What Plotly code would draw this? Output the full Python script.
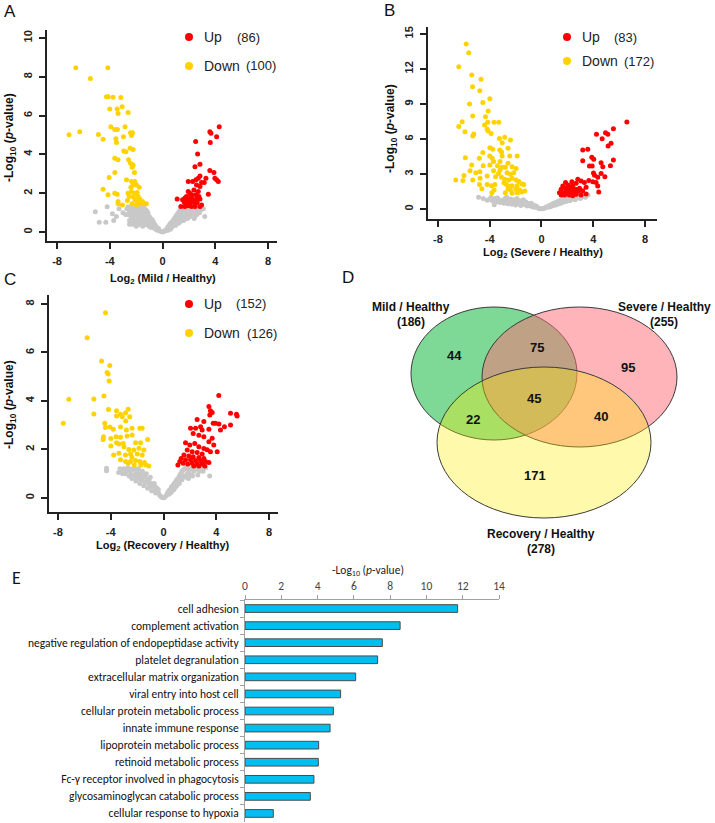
import plotly.graph_objects as go

W, H = 715, 823

# ---------------- Panel A: Mild / Healthy ----------------
a_gray = [(-5.1,1.05),(-4.8,0.5),(-4.3,0.5),(-4.2,1.3),(-3.8,0.95),(-3.7,0.6),(-3.5,0.8),(-3.3,1.2),(-3.0,1.0),(-2.8,0.9),
          (-2.7,1.2),(-2.6,0.9),(-2.5,1.1),(-2.5,0.6),(-2.4,1.3),(-2.4,0.8),(-2.3,1.0),(-2.3,0.4),(-2.2,1.2),(-2.2,0.7),
          (-2.1,0.9),(-2.1,0.5),(-2.0,1.25),(-2.0,1.0),(-2.0,0.3),(-1.9,0.8),(-1.9,0.6),(-1.8,1.2),(-1.8,1.0),(-1.8,0.4),
          (-1.7,0.9),(-1.7,0.7),(-1.6,1.1),(-1.6,0.5),(-1.5,1.25),(-1.5,0.8),(-1.5,0.3),(-1.4,1.0),(-1.4,0.6),(-1.3,0.9),
          (-1.3,0.4),(-1.2,1.1),(-1.2,0.7),(-1.1,0.5),(-1.1,0.8),(-1.0,0.6),(-1.0,0.3),(-0.9,0.7),(-0.9,0.45),(-0.8,0.5),
          (-0.8,0.25),(-0.7,0.55),(-0.7,0.3),(-0.6,0.4),(-0.6,0.2),(-0.5,0.3),(-0.5,0.15),(-0.4,0.2),(-0.4,0.1),(-0.3,0.12),
          (-0.2,0.06),(-0.1,0.03),(0.0,0.01),(0.1,0.03),(0.2,0.08),(0.3,0.15),(0.4,0.1),(0.4,0.25),(0.5,0.2),(0.5,0.35),
          (0.6,0.3),(0.6,0.45),(0.7,0.25),(0.7,0.5),(0.8,0.4),(0.8,0.6),(0.9,0.35),(0.9,0.7),(1.0,0.5),(1.0,0.8),
          (1.1,0.6),(1.1,0.9),(1.2,0.45),(1.2,1.0),(1.3,0.7),(1.3,1.1),(1.4,0.9),(1.4,1.25),(1.5,0.6),(1.5,1.05),
          (1.6,0.8),(1.6,1.2),(1.7,1.0),(1.8,0.7),(1.8,1.25),(1.9,0.9),(2.0,1.1),(2.1,0.8),(2.2,1.2),(2.3,1.0),
          (2.4,0.7),(2.5,1.15),(2.6,0.9),(2.7,1.25),(2.8,1.0),(3.0,1.2),(3.1,1.2),(3.2,0.8),
          (-2.6,1.3),(-2.5,0.4),(-2.4,1.05),(-2.3,0.6),(-2.2,0.95),(-2.2,0.45),(-2.1,1.15),(-2.1,0.7),(-2.0,0.8),
          (-2.0,0.55),(-1.9,1.05),(-1.9,0.35),(-1.8,0.85),(-1.8,0.6),(-1.7,1.25),(-1.7,0.45),(-1.6,0.95),(-1.6,0.7),
          (-1.5,1.05),(-1.5,0.55),(-1.4,1.25),(-1.4,0.8),(-1.4,0.4),(-1.3,1.15),(-1.3,0.7),(-1.2,0.9),(-1.2,0.5),
          (-1.1,1.0),(-1.1,0.35),(-1.0,0.8),(-1.0,0.45),(-0.9,0.55),(-0.9,0.25),(-0.8,0.65),(-0.8,0.4),(-0.7,0.45),
          (-0.6,0.3),(-0.5,0.22),(-0.3,0.18),(0.3,0.08),(0.5,0.27),(0.6,0.15),(0.7,0.4),(0.8,0.5),(0.9,0.55),
          (1.0,0.65),(1.0,0.35),(1.1,0.75),(1.2,0.85),(1.2,0.6),(1.3,0.9),(1.3,0.5),(1.4,1.05),(1.4,0.7),(1.5,0.85),
          (1.5,1.25),(1.6,1.0),(1.6,0.6),(1.7,1.2),(1.7,0.8),(1.8,0.95),(1.9,1.15),(1.9,0.7),(2.0,0.9),(2.1,1.05),
          (2.2,0.95),(2.3,1.25),(2.4,0.95),(2.5,0.85),(2.6,1.1),(2.9,1.15)]
a_down = [(-6.58,8.46),(-4.15,8.46),(-5.47,7.91),(-4.25,6.97),(-4.13,6.97),(-3.75,6.95),(-3.16,6.93),(-4.0,6.34),
          (-3.44,6.34),(-3.06,6.46),(-2.61,6.16),(-3.37,6.11),(-7.09,5.02),(-6.28,5.17),(-4.86,5.03),(-4.51,4.78),
          (-3.92,5.43),(-3.62,5.29),(-3.42,5.29),(-2.84,5.43),(-3.54,4.81),(-3.49,4.62),(-2.96,4.91),(-2.43,5.12),
          (-2.28,5.12),(-2.35,4.97),(-2.94,4.18),(-2.78,4.14),(-2.46,4.32),(-2.23,4.26),(-3.62,3.80),(-3.37,3.72),
          (-2.58,3.72),(-2.43,3.54),(-2.23,3.46),(-2.30,3.34),(-3.62,3.07),(-2.13,3.07),(-4.05,2.81),(-4.51,2.21),
          (-2.73,2.69),(-2.35,2.60),(-2.10,2.60),(-2.23,2.43),(-1.97,2.43),(-2.40,2.31),(-1.77,2.31),(-3.62,2.00),
          (-3.44,1.95),(-4.13,1.92),(-2.61,2.00),(-2.35,2.09),(-2.10,2.00),(-1.92,2.04),(-2.53,1.83),(-2.23,1.83),
          (-1.85,1.83),(-3.37,1.58),(-3.04,1.40),(-2.66,1.63),(-2.10,1.66),(-1.92,1.58),(-1.72,1.70),(-1.52,1.58),
          (-1.77,1.46),(-1.59,1.46),(-1.39,1.46),(-1.22,1.46),(-1.97,1.40),(-2.30,1.46),(-3.37,1.46),(-1.90,1.75)]
a_up = [(4.30,5.43),(3.59,5.17),(3.67,5.09),(4.10,4.91),(3.62,4.61),(2.51,4.66),(2.66,4.02),(2.46,3.37),(2.84,3.49),
        (3.59,3.17),(3.90,3.07),(3.97,2.77),(4.10,2.69),(4.23,2.60),(2.84,2.89),(2.71,2.77),(2.53,2.69),(1.95,2.60),
        (2.28,2.60),(2.96,2.55),(3.16,2.55),(3.29,2.77),(2.58,2.43),(2.84,2.35),(2.38,2.17),(2.71,2.09),(1.95,2.09),
        (2.08,2.00),(2.20,1.92),(2.53,1.92),(3.47,1.95),(1.11,1.70),(1.52,1.66),(1.70,1.75),(1.82,1.66),(2.08,1.70),
        (2.33,1.66),(2.58,1.70),(2.84,1.70),(1.65,1.52),(1.87,1.52),(2.08,1.49),(2.28,1.58),(2.46,1.49),(1.39,1.32),
        (1.70,1.32),(1.95,1.35),(2.20,1.32),(2.46,1.32),(2.84,1.32),(2.96,1.40),(1.82,1.83),(2.20,1.80),(2.03,1.61),
        (2.63,1.52),(2.76,1.83)]

# ---------------- Panel B: Severe / Healthy ----------------
b_gray = [(-4.86,1.0),(-3.65,0.37),(-4.5,0.9),(-4.2,0.75),(-4.0,0.85),(-3.8,0.7),(-3.6,0.9),(-3.5,0.6),(-3.3,0.8),
          (-3.2,0.55),(-3.0,0.75),(-2.9,0.5),(-2.8,0.9),(-2.7,0.65),(-2.6,0.45),(-2.5,0.8),(-2.4,0.6),(-2.3,0.4),
          (-2.2,0.75),(-2.1,0.55),(-2.0,0.35),(-1.9,0.9),(-1.9,0.6),(-1.8,0.45),(-1.7,0.7),(-1.6,0.3),(-1.5,0.55),
          (-1.4,0.8),(-1.3,0.4),(-1.2,0.6),(-1.1,0.25),(-1.0,0.45),(-0.9,0.3),(-0.8,0.5),(-0.7,0.2),(-0.6,0.35),
          (-0.5,0.15),(-0.4,0.25),(-0.3,0.1),(-0.2,0.05),(-0.1,0.02),(0.0,0.01),(0.1,0.02),(0.2,0.06),(0.3,0.1),
          (0.4,0.2),(0.5,0.15),(0.6,0.3),(0.7,0.2),(0.8,0.4),(0.9,0.3),(1.0,0.5),(1.1,0.35),(1.2,0.6),(1.3,0.45),
          (1.4,0.7),(1.5,0.5),(1.6,0.8),(1.7,0.6),(1.8,0.9),(1.9,0.65),(2.0,0.8),(2.2,0.7),(2.4,0.9),(2.6,0.8),
          (2.8,1.0),(3.0,0.9),(3.2,1.1),(3.4,1.0),(3.6,1.2),
          (-3.9,1.0),(-3.4,0.95),(-3.1,0.65),(-2.9,0.8),(-2.7,1.0),(-2.6,0.7),(-2.4,0.85),(-2.3,0.65),(-2.1,0.8),
          (-2.0,0.6),(-1.8,0.75),(-1.7,0.5),(-1.6,0.65),(-1.5,0.4),(-1.3,0.55),(-1.2,0.35),(-1.1,0.5),(-0.9,0.4),
          (-0.8,0.25),(-0.6,0.2),(0.6,0.18),(0.8,0.28),(0.9,0.45),(1.1,0.55),(1.2,0.4),(1.3,0.65),(1.4,0.5),
          (1.5,0.75),(1.6,0.6),(1.7,0.85),(1.8,0.7),(1.9,0.95),(2.1,0.85),(2.3,0.95),(2.5,0.85),(2.7,0.95),
          (2.9,1.1),(3.1,1.0),(3.3,1.2)]
b_down = [(-5.82,14.14),(-5.62,13.4),(-6.39,12.2),(-5.39,11.48),(-4.67,11.11),(-5.33,10.48),(-4.77,10.14),(-5.56,9.0),
          (-4.53,9.13),(-3.99,9.45),(-4.12,8.4),(-5.31,7.98),(-4.33,7.91),(-6.13,7.48),(-6.39,7.06),(-4.15,7.43),
          (-4.40,7.2),(-3.66,7.43),(-3.30,7.43),(-4.20,6.85),(-4.12,6.68),(-5.91,6.62),(-5.23,6.43),(-5.31,6.26),
          (-3.89,6.48),(-3.25,6.05),(-2.84,6.14),(-2.40,5.91),(-3.04,5.68),(-3.99,5.25),(-3.76,5.11),(-3.22,5.05),
          (-3.09,4.88),(-2.58,5.20),(-4.53,4.85),(-5.88,4.4),(-4.8,4.35),(-4.0,4.55),(-3.81,4.35),(-3.04,4.55),
          (-2.45,4.55),(-1.88,4.55),(-3.7,4.06),(-3.2,4.06),(-2.58,3.91),(-5.39,3.77),(-4.5,3.71),(-3.99,3.77),
          (-3.4,3.71),(-3.04,3.57),(-2.79,3.57),(-2.27,3.62),(-1.96,3.48),(-5.52,3.28),(-5.07,3.11),(-4.76,3.2),
          (-3.7,3.28),(-3.32,3.05),(-2.66,3.11),(-2.40,2.97),(-2.14,3.11),(-6.63,2.49),(-6.07,2.43),(-5.99,2.86),
          (-5.31,2.49),(-4.74,2.63),(-4.2,2.83),(-3.55,2.77),(-3.09,2.72),(-2.84,2.55),(-2.53,2.49),(-2.27,2.63),
          (-1.96,2.49),(-1.75,2.35),(-1.50,2.15),(-4.79,2.09),(-4.2,2.09),(-3.86,2.0),(-3.6,2.09),(-2.71,2.09),
          (-2.27,2.0),(-1.88,2.0),(-1.37,2.09),(-4.61,1.74),(-3.83,1.4),(-3.66,1.63),(-2.58,1.74),(-2.40,1.63),
          (-1.99,1.69),(-1.68,1.63),(-2.79,1.40),(-2.27,1.34),(-1.86,1.40),(-1.55,1.46),(-1.29,1.54),(-2.5,1.95),
          (-2.9,2.25),(-3.2,3.35)]
b_up = [(6.6,7.46),(5.56,6.88),(4.95,6.54),(5.13,6.4),(4.25,6.4),(4.69,6.03),(5.38,5.63),(5.15,5.4),(3.19,5.06),
        (3.58,5.12),(3.89,4.43),(4.04,4.26),(3.19,4.14),(4.61,3.97),(5.56,4.2),(3.71,3.69),(3.92,3.69),(4.74,3.63),
        (5.33,3.71),(4.02,3.09),(4.1,2.9),(4.61,3.03),(4.9,2.77),(4.35,2.72),(3.97,2.34),(3.66,2.43),(4.22,2.26),
        (4.35,1.97),(4.43,1.46),(2.81,2.54),(3.06,2.4),(3.32,2.26),(2.35,2.34),(2.68,2.2),(3.45,1.86),(2.94,1.77),
        (3.19,1.57),(3.45,1.29),(1.86,2.26),(2.04,2.06),(1.65,1.97),(2.22,1.91),(2.42,1.97),(1.52,1.69),(1.86,1.77),
        (2.11,1.69),(2.37,1.63),(2.63,1.69),(2.76,1.49),(1.39,1.40),(1.70,1.40),(2.04,1.34),(2.29,1.40),(2.55,1.34),
        (2.89,1.57),(3.06,1.20),(1.78,1.2),(2.16,1.2),(2.42,1.14),(2.68,1.26),(1.52,1.2),(1.91,1.57)]

# ---------------- Panel C: Recovery / Healthy ----------------
c_gray = [(-4.32,1.22),(-4.32,1.12),(-3.4,1.05),(-3.2,1.15),(-3.0,1.2),(-2.9,1.0),(-2.7,1.25),(-2.6,0.9),(-2.5,1.1),
          (-2.4,0.8),(-2.3,1.2),(-2.2,0.95),(-2.1,0.7),(-2.0,1.1),(-1.9,0.85),(-1.8,0.6),(-1.7,1.0),(-1.6,0.75),
          (-1.5,0.5),(-1.4,0.9),(-1.3,0.65),(-1.2,0.4),(-1.1,0.75),(-1.0,0.5),(-0.9,0.3),(-0.8,0.55),(-0.7,0.35),
          (-0.6,0.2),(-0.5,0.4),(-0.4,0.25),(-0.3,0.12),(-0.2,0.06),(-0.1,0.02),(0.0,0.01),(0.1,0.03),(0.2,0.1),
          (0.3,0.2),(0.4,0.15),(0.5,0.35),(0.6,0.25),(0.7,0.5),(0.8,0.35),(0.9,0.65),(1.0,0.5),(1.1,0.8),(1.2,0.6),
          (1.3,1.0),(1.4,0.75),(1.5,1.15),(1.6,0.9),(1.7,1.25),(1.8,1.0),(1.9,0.8),(2.0,1.2),(2.1,0.95),(2.3,1.1),
          (2.5,1.25),(2.6,0.95),(2.8,1.2),(3.0,1.1),(3.2,1.25),(3.5,0.9),
          (-3.3,1.2),(-3.1,1.0),(-2.8,1.1),(-2.6,1.2),(-2.5,0.95),(-2.4,1.15),(-2.3,0.9),(-2.2,1.2),(-2.1,1.0),
          (-2.0,0.8),(-1.9,1.2),(-1.8,0.95),(-1.7,0.75),(-1.6,1.1),(-1.5,0.85),(-1.4,0.65),(-1.3,1.0),(-1.2,0.75),
          (-1.1,0.55),(-1.0,0.85),(-0.9,0.6),(-0.8,0.4),(-0.7,0.6),(-0.6,0.45),(-0.5,0.25),(-0.4,0.35),(0.4,0.3),
          (0.5,0.2),(0.6,0.45),(0.7,0.35),(0.8,0.6),(0.9,0.45),(1.0,0.75),(1.1,0.6),(1.2,0.9),(1.3,0.75),(1.4,1.1),
          (1.5,0.9),(1.6,1.2),(1.7,0.85),(1.8,1.2),(1.9,1.05),(2.1,1.2),(2.2,0.9),(2.4,1.2),(2.7,1.1),(2.9,1.25)]
c_down = [(-4.40,7.64),(-5.79,6.61),(-4.70,5.65),(-4.07,5.46),(-4.27,5.17),(-4.2,5.11),(-4.12,4.82),(-7.18,4.07),
          (-5.28,4.08),(-4.52,4.2),(-7.6,3.08),(-5.28,3.46),(-4.17,3.65),(-3.56,3.6),(-3.26,3.45),(-2.88,3.5),
          (-2.68,3.66),(-3.56,3.38),(-3.13,3.35),(-2.56,3.35),(-2.86,3.17),(-4.45,3.08),(-4.4,2.9),(-4.07,2.93),
          (-3.8,2.83),(-3.26,2.93),(-2.81,2.8),(-2.38,2.87),(-1.79,2.87),(-1.62,2.87),(-4.55,2.52),(-4.58,2.41),
          (-3.99,2.45),(-3.6,2.52),(-3.26,2.5),(-2.76,2.55),(-2.38,2.6),(-1.2,2.41),(-3.56,2.28),(-3.38,2.22),
          (-3.99,2.14),(-3.0,2.11),(-2.12,2.28),(-1.74,2.28),(-2.63,2.0),(-2.25,1.98),(-1.86,2.05),(-1.49,1.98),
          (-3.78,1.77),(-3.38,1.84),(-2.88,1.77),(-2.5,1.81),(-1.99,1.81),(-1.62,1.77),(-3.26,1.57),(-2.88,1.5),
          (-2.5,1.5),(-2.12,1.54),(-1.79,1.5),(-1.44,1.46),(-1.11,1.32),(-2.68,1.43),(-2.22,1.36),(-1.72,1.36),
          (-1.34,1.36),(-3.05,2.25),(-2.4,1.68)]
c_up = [(4.19,4.22),(3.44,3.77),(3.56,3.6),(3.69,3.52),(5.08,3.49),(5.53,3.45),(5.58,3.38),(3.51,3.42),(2.55,3.24),
        (3.06,3.15),(3.77,3.08),(3.94,3.08),(4.2,3.05),(4.62,2.94),(5.08,3.01),(2.05,2.87),(2.43,2.87),(2.81,2.94),
        (2.93,2.8),(3.44,2.83),(2.25,2.66),(2.68,2.59),(3.06,2.52),(3.69,2.46),(3.44,2.32),(3.81,2.18),(1.67,2.28),
        (1.99,2.18),(2.37,2.25),(2.68,2.11),(3.06,2.04),(3.31,1.99),(3.56,1.9),(1.8,1.98),(2.17,1.9),(2.55,1.87),
        (2.93,1.81),(1.55,1.77),(1.92,1.73),(2.25,1.7),(2.68,1.67),(3.06,1.63),(1.34,1.63),(1.67,1.57),(2.05,1.57),
        (2.43,1.54),(2.81,1.53),(3.19,1.5),(3.44,1.46),(1.24,1.5),(1.49,1.43),(1.84,1.4),(2.17,1.43),(2.55,1.4),
        (2.93,1.4),(4.07,1.9),(4.32,2.8),(3.13,1.32),(1.09,1.36),(2.3,1.32),(2.68,1.32)]

# ---------------- Panel D: Venn counts ----------------
venn_sets = ["Mild / Healthy", "Severe / Healthy", "Recovery / Healthy"]
venn_totals = [186, 255, 278]
venn_regions = ["M", "MS", "S", "MSR", "MR", "SR", "R"]
venn_counts = [44, 75, 95, 45, 22, 40, 171]

# ---------------- Panel E: GO terms ----------------
go_terms = ["cell adhesion", "complement activation", "negative regulation of endopeptidase activity",
            "platelet degranulation", "extracellular matrix organization", "viral entry into host cell",
            "cellular protein metabolic process", "innate immune response", "lipoprotein metabolic process",
            "retinoid metabolic process", "Fc-\u03b3 receptor involved in phagocytosis",
            "glycosaminoglycan catabolic process", "cellular response to hypoxia"]
go_values = [11.72, 8.55, 7.57, 7.31, 6.10, 5.27, 4.87, 4.69, 4.06, 4.04, 3.80, 3.60, 1.56]

# ---------------------------------------------------------
def fx(p):
    return p / W

def fy(p):
    return 1 - p / H

GRAY, YEL, RED = "#c8c8c8", "#ffd200", "#ff0000"
ARIAL = "Liberation Sans, Arial, sans-serif"
CAL = "Carlito, Calibri, 'DejaVu Sans Condensed', 'Liberation Sans Narrow', 'Liberation Sans', sans-serif"

fig = go.Figure()

def add_volcano(gray, down, up, xa, ya):
    for pts, col in ((gray, GRAY), (down, YEL), (up, RED)):
        fig.add_trace(go.Scatter(x=[p[0] for p in pts], y=[p[1] for p in pts], mode="markers",
                                 marker=dict(color=col, size=5, line=dict(width=0)),
                                 xaxis=xa, yaxis=ya, showlegend=False, hoverinfo="skip"))

add_volcano(a_gray, a_down, a_up, "x", "y")
add_volcano(b_gray, b_down, b_up, "x2", "y2")
add_volcano(c_gray, c_down, c_up, "x3", "y3")

fig.add_trace(go.Bar(x=go_values, y=go_terms, orientation="h", width=0.45,
                     marker=dict(color="#00bff0", line=dict(color="#4a4a4a", width=1)),
                     xaxis="x4", yaxis="y4", showlegend=False, hoverinfo="skip"))

vax = dict(showline=True, linecolor="#222", linewidth=2, ticks="outside", ticklen=6, tickwidth=2,
           tickcolor="#222", showgrid=False, zeroline=False, mirror=False, automargin=False,
           tickfont=dict(family=ARIAL, size=11, color="#222", weight="bold"))

def xa(dom, rng):
    d = dict(vax)
    d.update(domain=[fx(dom[0]), fx(dom[1])], range=rng, tickvals=[-8, -4, 0, 4, 8],
             ticktext=["-8", "-4", "0", "4", "8"], ticklabelstandoff=3)
    return d

def ya(dom, rng, tv):
    d = dict(vax)
    d.update(domain=[fy(dom[1]), fy(dom[0])], range=rng, tickvals=tv, tickangle=-90, ticklabelstandoff=3)
    return d

fig.update_layout(
    width=W, height=H, autosize=False, margin=dict(l=0, r=0, t=0, b=0, autoexpand=False),
    paper_bgcolor="white", plot_bgcolor="white",
    xaxis=dict(xa((47, 277), [-8.76, 8.68]), anchor="y"),
    yaxis=dict(ya((30, 241), [-0.46, 10.41], [0, 2, 4, 6, 8, 10]), anchor="x"),
    xaxis2=dict(xa((428, 657), [-8.77, 8.93]), anchor="y2"),
    yaxis2=dict(ya((27, 219), [-0.86, 15.6], [0, 3, 6, 9, 12, 15]), anchor="x2"),
    xaxis3=dict(xa((49, 278), [-8.68, 8.68]), anchor="y3"),
    yaxis3=dict(ya((295, 512), [-0.58, 8.37], [0, 2, 4, 6, 8]), anchor="x3"),
    xaxis4=dict(domain=[fx(245), fx(499)], range=[0, 14], side="top", anchor="y4", automargin=False,
                tickvals=list(range(0, 15, 2)), showline=True, linecolor="#a0a0a0", linewidth=1,
                ticks="outside", ticklen=4, tickcolor="#a0a0a0", showgrid=False, zeroline=False,
                tickfont=dict(family=CAL, size=11.5, color="#444")),
    yaxis4=dict(domain=[fy(822), fy(600)], anchor="x4", autorange="reversed", type="category",
                automargin=False, showline=True, linecolor="#a0a0a0", linewidth=1, ticks="outside",
                ticklen=4, tickcolor="#a0a0a0", tickson="boundaries", showgrid=False, ticklabelstandoff=3,
                tickfont=dict(family=CAL, size=11.5, color="#111")),
)

ann = []
def text(x, y, s, size=12, bold=False, anchor="center", angle=0, color="#111", family=ARIAL):
    if bold:
        s = "<b>" + s + "</b>"
    ann.append(dict(x=fx(x), y=fy(y), xref="paper", yref="paper", text=s, showarrow=False,
                    xanchor=anchor, yanchor="middle", textangle=angle,
                    font=dict(size=size, color=color, family=family)))

# panel letters
for ch, x, y in (("A", 10, 11), ("B", 390, 10), ("C", 10, 279), ("D", 348, 277)):
    text(x, y, ch, size=17)
text(16, 578, "E", size=18, family=CAL)

# volcano axis titles
ytitle = "-Log<sub>10</sub> (<i>p</i>-value)"
text(163, 279, "Log<sub>2</sub> (Mild / Healthy)", size=11, bold=True)
text(10, 138, ytitle, size=12, bold=True, angle=-90)
text(543, 253, "Log<sub>2</sub> (Severe / Healthy)", size=11, bold=True)
text(391, 129, ytitle, size=12, bold=True, angle=-90)
text(163, 546, "Log<sub>2</sub> (Recovery / Healthy)", size=11, bold=True)
text(10, 405, ytitle, size=12, bold=True, angle=-90)

# volcano legends
shapes = []
def dot(x, y, col):
    shapes.append(dict(type="circle", xref="paper", yref="paper", x0=fx(x - 4), x1=fx(x + 4),
                       y0=fy(y + 4), y1=fy(y - 4), fillcolor=col, line=dict(width=0)))

legends = [((189, 37, 66), (202, 235, 244), "(86)", "(100)"),
           ((567, 37, 61), (580, 612, 622), "(83)", "(172)"),
           ((189, 304, 333), (202, 234, 245), "(152)", "(126)")]
for (dx, yu, yd), (tx, nx_up, nx_dn), nu, nd in legends:
    dot(dx, yu, RED)
    dot(dx, yd, YEL)
    text(tx, yu, "Up", size=14, anchor="left", color="#222")
    text(nx_up, yu, nu, size=13, anchor="left", color="#222")
    text(tx, yd, "Down", size=14, anchor="left", color="#222")
    text(nx_dn, yd, nd, size=13, anchor="left", color="#222")

# Venn ellipses
for (x0, x1, y0, y1), col in (((411, 577, 307, 440), "rgba(0,179,45,0.5)"),
                              ((482, 677, 307, 447), "rgba(255,105,115,0.5)"),
                              ((437, 651, 367, 518), "rgba(255,240,0,0.33)")):
    shapes.append(dict(type="circle", xref="paper", yref="paper", x0=fx(x0), x1=fx(x1),
                       y0=fy(y1), y1=fy(y0), fillcolor=col, line=dict(color="#3a3a3a", width=1)))

text(411, 307, venn_sets[0], size=12, bold=True)
text(411, 322, "(%d)" % venn_totals[0], size=12, bold=True)
text(664, 307, venn_sets[1], size=12, bold=True)
text(664, 322, "(%d)" % venn_totals[1], size=12, bold=True)
text(541, 534, venn_sets[2], size=12, bold=True)
text(541, 549, "(%d)" % venn_totals[2], size=12, bold=True)

venn_pos = {"M": (454, 355), "MS": (537, 347), "S": (628, 368), "MSR": (534, 399),
            "MR": (473, 419), "SR": (601, 417), "R": (535, 475)}
for r, c in zip(venn_regions, venn_counts):
    text(venn_pos[r][0], venn_pos[r][1], str(c), size=13, bold=True)

# Panel E title
text(368, 570, "-Log<sub>10</sub> (<i>p</i>-value)", size=11.5, color="#222", family=CAL)

fig.update_layout(annotations=ann, shapes=shapes)
fig.write_html("out.html", config={"displayModeBar": False},
               post_script="document.body.style.margin='0px';")
